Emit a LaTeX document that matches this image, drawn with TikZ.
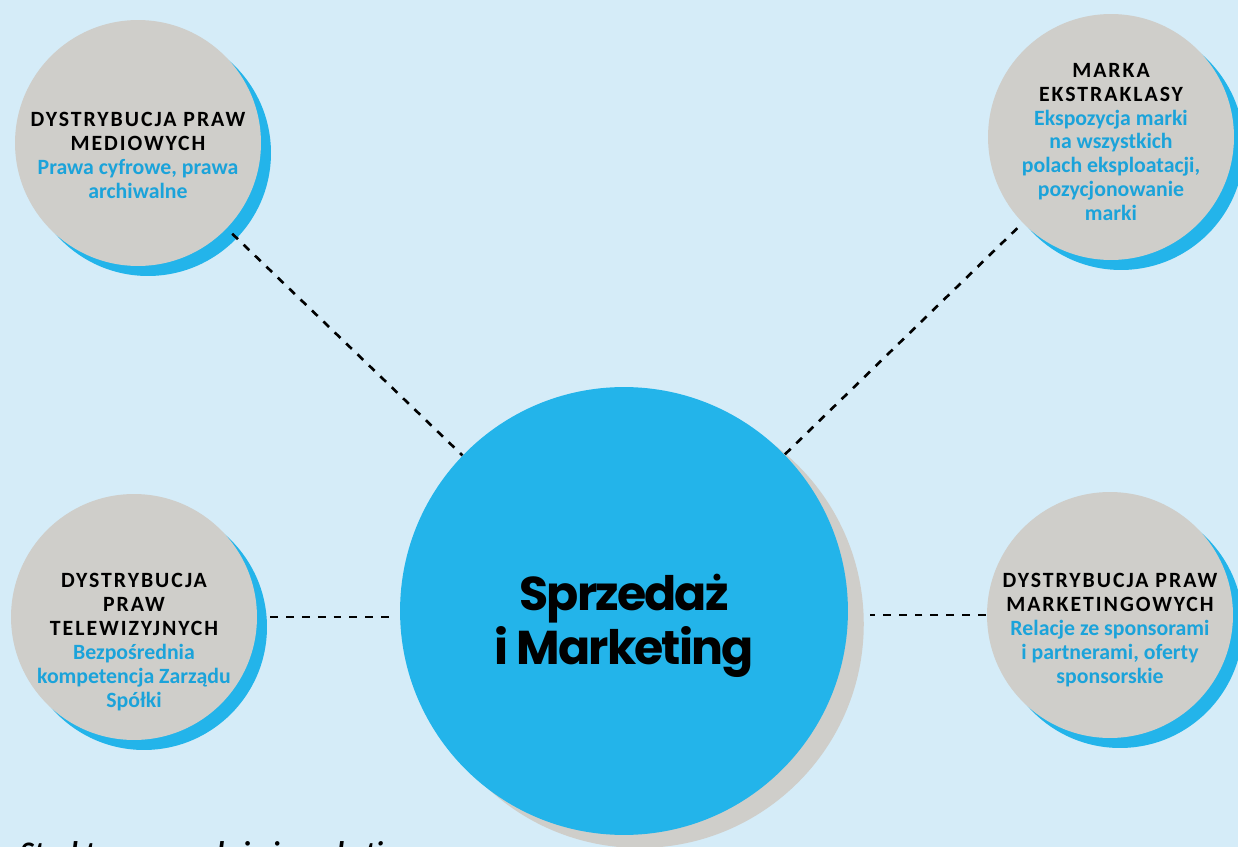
\documentclass[tikz,border=0pt]{standalone}
\usepackage{fontspec}
\setmainfont{Carlito}
\newfontfamily\headfont{Carlito}[LetterSpace=9]
\newfontfamily\bigfont{Poppins}[LetterSpace=-4]
\usetikzlibrary{shadows}
\definecolor{bgblue}{HTML}{D5ECF8}
\definecolor{ekblue}{HTML}{23B4EA}
\definecolor{ekgray}{HTML}{CFCECA}
\definecolor{txtblue}{HTML}{1BA3DA}
\newcommand{\hd}[1]{{\headfont #1}}
\newcommand{\ds}[1]{\textcolor{txtblue}{#1}}
\begin{document}
\begin{tikzpicture}[x=0.02cm,y=-0.02cm,
  topic/.style={circle,fill=ekgray,minimum size=4.92cm,inner sep=0pt,
    drop shadow={shadow xshift=5.7pt,shadow yshift=-5.7pt,fill=ekblue,opacity=1}},
  topictext/.style={align=center,font=\bfseries\fontsize{12.4}{13.6}\selectfont},
  hub/.style={circle,fill=ekblue,minimum size=8.96cm,inner sep=0pt,
    drop shadow={shadow xshift=9pt,shadow yshift=-7.4pt,fill=ekgray,opacity=1}},
  link/.style={line width=1.5pt,dash pattern=on 4.5pt off 4.5pt}]
 \clip (0,0) rectangle (1238,847);
 \fill[bgblue] (0,0) rectangle (1238,847);

 \node[hub] (mid) at (624,611) {};
 \node[topic] (tl) at (138,143) {};
 \node[topic] (tr) at (1111,137) {};
 \node[topic] (bl) at (134,617) {};
 \node[topic] (br) at (1110,615) {};

 \node[align=center,font=\bigfont\bfseries\fontsize{27}{30.6}\selectfont] (midtext) at ([yshift=-0.3cm]mid) {Sprzedaż\\i Marketing};
 \node[topictext] (tltext) at ([yshift=-0.25cm]tl) {\hd{DYSTRYBUCJA PRAW}\\\hd{MEDIOWYCH}\\\ds{Prawa cyfrowe, prawa}\\\ds{archiwalne}};
 \node[topictext] (trtext) at ([yshift=-0.1cm]tr) {\hd{MARKA}\\\hd{EKSTRAKLASY}\\\ds{Ekspozycja marki}\\\ds{na wszystkich}\\\ds{polach eksploatacji,}\\\ds{pozycjonowanie}\\\ds{marki}};
 \node[topictext] (bltext) at ([yshift=-0.5cm]bl) {\hd{DYSTRYBUCJA}\\\hd{PRAW}\\\hd{TELEWIZYJNYCH}\\\ds{Bezpośrednia}\\\ds{kompetencja Zarządu}\\\ds{Spółki}};
 \node[topictext] (brtext) at ([yshift=-0.3cm]br) {\hd{DYSTRYBUCJA PRAW}\\\hd{MARKETINGOWYCH}\\\ds{Relacje ze sponsorami}\\\ds{i partnerami, oferty}\\\ds{sponsorskie}};

 \node[anchor=base west,font=\bfseries\itshape\fontsize{17}{20}\selectfont] (caption) at (14,862) {Struktura sprzedaży i marketingu};

 \foreach \from/\to in {tl/mid,tr/mid}
 \draw [link,shorten <=0.15cm] (\from) -- (\to);
 \draw [link,shorten <=0.26cm,shorten >=0.2cm] (bl.east) -- (bl.east -| mid.west);
 \draw [link,shorten <=0.02cm,shorten >=0.44cm] (br.west) -- (br.west -| mid.east);
\end{tikzpicture}
\end{document}
